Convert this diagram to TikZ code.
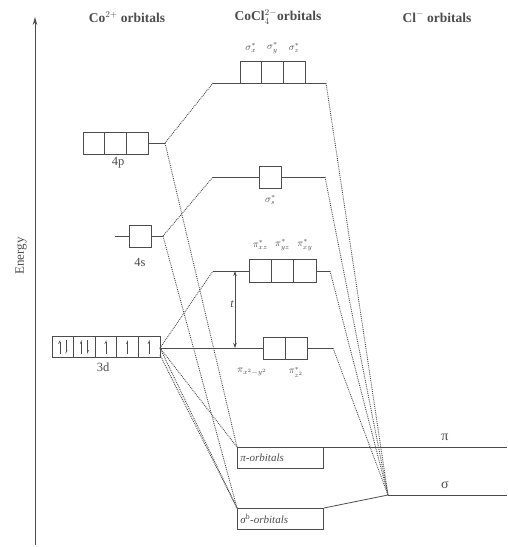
\documentclass[tikz,border=0pt]{standalone}
\usepackage{fontspec}
\setmainfont{Liberation Serif}
\usetikzlibrary{arrows.meta}
\definecolor{ink}{gray}{0.3}
\begin{document}
\begin{tikzpicture}[x=1pt,y=-1pt,
  cell/.style={draw=ink, line width=0.9pt, minimum width=21.7pt, minimum height=22pt, inner sep=0pt, outer sep=0pt},
  lvl/.style={draw=ink, line width=1pt},
  dotc/.style={draw=ink, densely dotted, line width=0.9pt},
  title/.style={font=\fontsize{13.5}{15}\selectfont\bfseries, text=ink, inner sep=0pt},
  lab/.style={font=\fontsize{12.5}{14}\selectfont, text=ink, inner sep=0pt},
  small/.style={font=\fontsize{10}{11}\selectfont, text=ink, inner sep=0pt},
  spin/.style={draw=ink, line width=0.6pt},
  bbox/.style={draw=ink, line width=0.9pt, font=\fontsize{11}{12}\selectfont\itshape, text=ink, anchor=north west, minimum width=86pt, minimum height=21pt, inner sep=2pt, text width=80pt, align=left}]
\useasboundingbox (0,0) rectangle (507,547);
% axis
\coordinate (ax0) at (35,545);
\coordinate (ax1) at (35,17);
\draw[ink, line width=0.9pt, -{Stealth[length=8pt,width=4.5pt]}] (ax0) -- (ax1);
\node[lab, rotate=90, font=\fontsize{13}{15}\selectfont] (energy) at (21,256) {Energy};
% titles
\node[title] (t1) at (127,17) {Co$^{2+}$ orbitals};
\node[title] (t2) at (278,17) {CoCl$_4^{2-}$orbitals};
\node[title] (t3) at (437,17) {Cl$^{-}$ orbitals};
% 4p
\node[cell] (p1) at (93.8,143) {};
\node[cell] (p2) at (115.5,143) {};
\node[cell] (p3) at (137.2,143) {};
\coordinate (p4r) at (165,143);
\draw[lvl] (p3.east) -- (p4r);
\node[lab] (l4p) at (118,163) {4p};
% 4s
\node[cell, minimum width=22pt] (s1) at (140,236) {};
\coordinate (s4l) at (115,236);
\coordinate (s4r) at (163,236);
\draw[lvl] (s4l) -- (s1.west);
\draw[lvl] (s1.east) -- (s4r);
\node[lab] (l4s) at (140,262) {4s};
% 3d
\foreach \i/\x in {1/62.8,2/84.4,3/106,4/127.6,5/149.2}{
  \node[cell, minimum width=21.6pt, minimum height=21pt] (d\i) at (\x,347) {};
}
\foreach \i in {1,2}{
  \draw[spin, -{Straight Barb[left,length=2.5pt,width=2.5pt]}] ([xshift=-3pt,yshift=-7pt]d\i.center) -- ([xshift=-3pt,yshift=7pt]d\i.center);
  \draw[spin, -{Straight Barb[left,length=2.5pt,width=2.5pt]}] ([xshift=3pt,yshift=7pt]d\i.center) -- ([xshift=3pt,yshift=-7pt]d\i.center);
}
\foreach \i in {3,4,5}{
  \draw[spin, -{Straight Barb[left,length=2.5pt,width=2.5pt]}] ([yshift=-7pt]d\i.center) -- ([yshift=7pt]d\i.center);
}
\coordinate (d3r) at (160,348);
\coordinate (d3rb) at (160,355);
\node[lab] (l3d) at (103,367) {3d};
% sigma* top level
\coordinate (aL) at (213,83);
\coordinate (aR) at (326,83);
\draw[lvl] (aL) -- (aR);
\node[cell, anchor=south] (a1) at (250.8,83) {};
\node[cell, anchor=south] (a2) at (272.5,83) {};
\node[cell, anchor=south] (a3) at (294.2,83) {};
\node[small] (la1) at (a1 |- 0,48) {$\sigma^*_x$};
\node[small] (la2) at (a2 |- 0,48) {$\sigma^*_y$};
\node[small] (la3) at (a3 |- 0,48) {$\sigma^*_z$};
% sigma*_s level
\coordinate (bL) at (213,177);
\coordinate (bR) at (325,177);
\node[cell, minimum width=22.5pt] (b1) at (270.5,177) {};
\draw[lvl] (bL) -- (b1.west);
\draw[lvl] (b1.east) -- (bR);
\node[small] (lb1) at (270.5,200) {$\sigma^*_s$};
% pi* level (t2)
\coordinate (cL) at (213,271);
\coordinate (cR) at (330,271);
\node[cell, minimum width=22.3pt, minimum height=23pt] (c1) at (260.2,271) {};
\node[cell, minimum width=22.3pt, minimum height=23pt] (c2) at (282.5,271) {};
\node[cell, minimum width=22.3pt, minimum height=23pt] (c3) at (304.8,271) {};
\draw[lvl] (cL) -- (c1.west);
\draw[lvl] (c3.east) -- (cR);
\node[small] (lc1) at (c1 |- 0,245) {$\pi^*_{xz}$};
\node[small] (lc2) at (c2 |- 0,245) {$\pi^*_{yz}$};
\node[small] (lc3) at (c3 |- 0,245) {$\pi^*_{xy}$};
% e level
\coordinate (eR) at (333,348);
\node[cell, minimum width=22pt] (e1) at (274,348) {};
\node[cell, minimum width=22pt] (e2) at (296,348) {};
\draw[lvl] (d3r) -- (e1.west);
\draw[lvl] (e2.east) -- (eR);
\node[small] (le1) at (252,372) {$\pi_{x^2-y^2}$};
\node[small] (le2) at (296,372) {$\pi^*_{z^2}$};
% t arrow
\coordinate (tt) at (235,271);
\coordinate (tb) at (235,348);
\draw[ink, line width=0.7pt, {Stealth[length=5pt,width=3.5pt]}-{Stealth[length=5pt,width=3.5pt]}] (tt) -- (tb);
\node[lab, font=\fontsize{12}{14}\selectfont\itshape, fill=white, inner sep=1pt] (tl) at (232,304) {t};
% bonding pi
\node[bbox] (pib) at (237,447) {π-orbitals};
\coordinate (piR) at (507,447);
\draw[lvl] (pib.north west) -- (piR);
\node[lab, font=\fontsize{14}{16}\selectfont] (lpi) at (445,437) {π};
% bonding sigma
\node[bbox] (sib) at (237,508) {σ$^{\mathrm{b}}$-orbitals};
\coordinate (sP) at (388,495);
\coordinate (sR) at (507,495);
\draw[lvl] (sP) -- (sR);
\draw[ink, line width=0.8pt] (sib.north east) -- (sP);
\node[lab, font=\fontsize{14}{16}\selectfont] (lsi) at (445,485) {σ};
% dotted connectors left
\draw[dotc] (p4r) -- (aL);
\draw[dotc] (s4r) -- (bL);
\draw[dotc] (d3r) -- (cL);
\draw[dotc] (p4r) -- (pib.north west);
\draw[dotc] (s4r) -- (sib.north west);
\draw[dotc] (d3r) -- (pib.north west);
\draw[dotc] (d3r) -- (sib.north west);
\draw[dotc] (d3rb) -- (sib.north west);
% dotted connectors right
\draw[dotc] (aR) -- (sP);
\draw[dotc] (bR) -- (sP);
\draw[dotc] (cR) -- (sP);
\draw[dotc] (eR) -- (sP);
\end{tikzpicture}
\end{document}
